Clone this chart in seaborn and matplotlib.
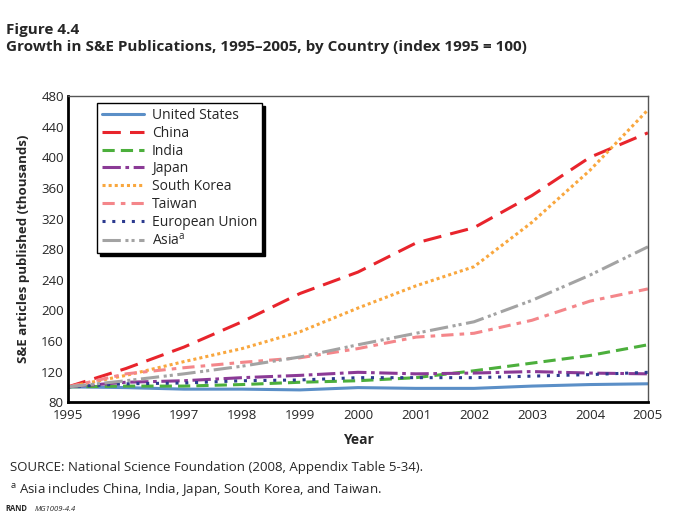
import pandas as pd
import matplotlib
matplotlib.use("Agg")
import matplotlib.pyplot as plt
import seaborn as sns

years = list(range(1995, 2006))

us = [100, 99, 97, 97, 96, 99, 98, 98, 101, 103, 104]
china = [100, 124, 152, 185, 222, 250, 288, 308, 350, 400, 432]
india = [100, 101, 101, 103, 106, 108, 112, 121, 131, 141, 155]
japan = [100, 106, 108, 112, 115, 119, 117, 118, 120, 118, 117]
south_korea = [100, 115, 133, 150, 172, 203, 232, 257, 315, 383, 462]
taiwan = [100, 117, 125, 132, 138, 150, 165, 170, 187, 212, 228]
eu = [100, 104, 105, 108, 109, 112, 112, 112, 114, 116, 119]
asia = [100, 108, 117, 127, 139, 155, 170, 185, 213, 246, 283]

names = ["United States", "China", "India", "Japan", "South Korea",
         "Taiwan", "European Union", "Asia$^{\\mathregular{a}}$"]
series = [us, china, india, japan, south_korea, taiwan, eu, asia]
colors = ["#5b8fc7", "#e8242c", "#4caf3c", "#8b3a96", "#f9a73e",
          "#f4868a", "#2b3a8f", "#a3a3a3"]
styles = ["-", (0, (6, 3)), (0, (4, 2)), (0, (6, 1.5, 1.2, 1.5)),
          (0, (1, 1)), (0, (4, 2, 1.5, 2)), (0, (1, 2.2)),
          (0, (6, 1.5, 1, 1, 1, 1.5))]

sns.set_style("white")
plt.rcParams["font.family"] = ["Open Sans", "DejaVu Sans"]

fig = plt.figure(figsize=(6.97, 5.25), dpi=100)
ax = fig.add_axes([0.0976, 0.234, 0.832, 0.583])

for name, vals, c, ls in zip(names, series, colors, styles):
    df = pd.DataFrame({"Year": years, "val": vals})
    sns.lineplot(data=df, x="Year", y="val", ax=ax, color=c, linestyle=ls,
                 linewidth=2.2, label=name)

ax.set_xlim(1995, 2005)
ax.set_ylim(80, 480)
ax.set_xticks(years)
ax.set_yticks(range(80, 481, 40))
ax.tick_params(axis="both", direction="in", length=14, width=1.2,
               color="#555555", labelsize=9.5, pad=3)
ax.tick_params(axis="x", pad=5)
for s in ["left", "bottom"]:
    ax.spines[s].set_color("black")
    ax.spines[s].set_linewidth(2)
for s in ["top", "right"]:
    ax.spines[s].set_color("#555555")
    ax.spines[s].set_linewidth(1)
ax.set_xlabel("Year", fontsize=10, fontweight="bold", labelpad=8)
ax.set_ylabel("S&E articles published (thousands)", fontsize=9.5,
              fontweight="bold", labelpad=8)

leg = ax.legend(loc="upper left", bbox_to_anchor=(0.05, 0.977), fontsize=10,
                frameon=True, fancybox=False, shadow={"color": "black", "alpha": 1},
                edgecolor="black", handlelength=3.0, labelspacing=0.2,
                borderpad=0.35, handletextpad=0.6, borderaxespad=0)
leg.get_frame().set_linewidth(1)

fig.text(0.008, 0.935, "Figure 4.4", fontsize=11, fontweight="bold")
fig.text(0.008, 0.903, "Growth in S&E Publications, 1995\u20132005, by Country (index 1995 = 100)",
         fontsize=11, fontweight="bold")
fig.text(0.014, 0.102, "SOURCE: National Science Foundation (2008, Appendix Table 5-34).",
         fontsize=9.5)
fig.text(0.014, 0.060, "$^{\\mathregular{a}}$ Asia includes China, India, Japan, South Korea, and Taiwan.",
         fontsize=9.5)
fig.text(0.008, 0.027, "RAND", fontsize=5.5, fontweight="bold")
fig.text(0.05, 0.027, "MG1009-4.4", fontsize=5.5, style="italic")

fig.savefig("out.png", dpi=100)
